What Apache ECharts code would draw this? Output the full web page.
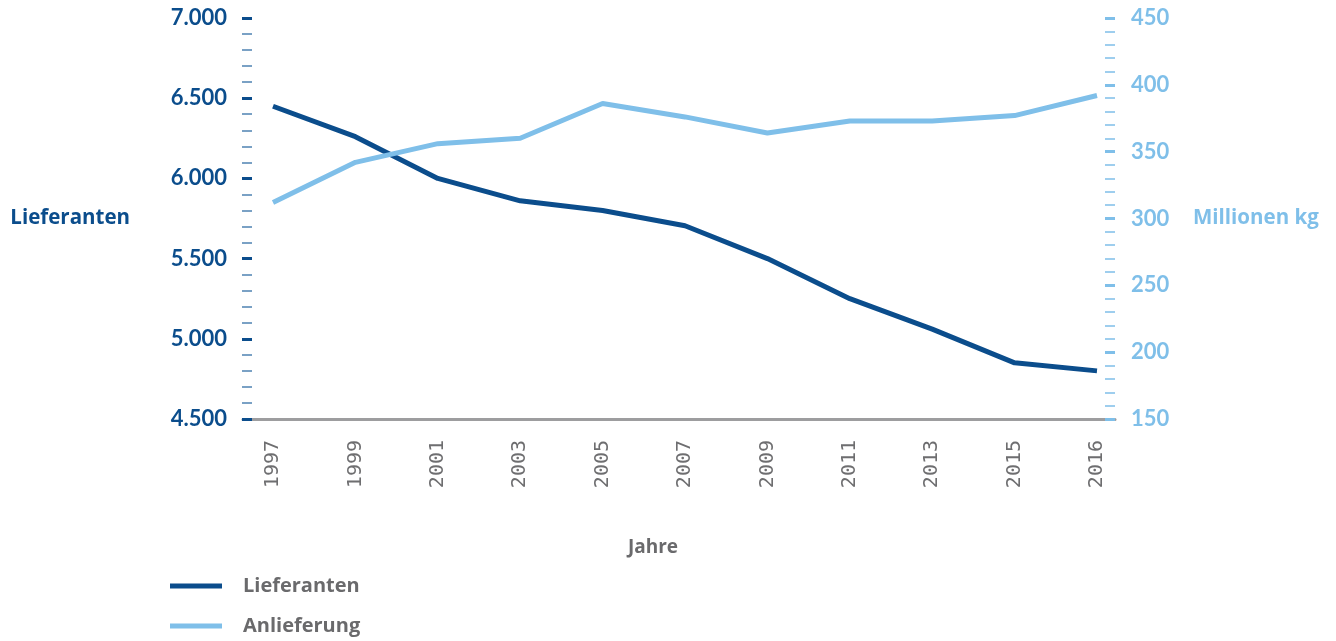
<!DOCTYPE html>
<html>
<head>
<meta charset="utf-8">
<script src="https://cdn.jsdelivr.net/npm/echarts@6/dist/echarts.min.js"></script>
<style>html,body{margin:0;padding:0;background:#fff}#c{width:1336px;height:641px}</style>
</head>
<body>
<div id="c"></div>
<script>
const years = ['1997','1999','2001','2003','2005','2007','2009','2011','2013','2015','2016'];
const lieferanten = [6450, 6260, 6000, 5860, 5800, 5705, 5500, 5250, 5060, 4850, 4800];
const anlieferung = [312, 342, 356, 360, 386, 376, 364, 373, 373, 377, 392];
const seriesNames = ['Lieferanten', 'Anlieferung'];
const axisNames = ['Lieferanten', 'Millionen kg', 'Jahre'];

const DARK = '#0b4d8c', LIGHT = '#7fbfe9', GRAY = '#6a6a6c';
const nameFont = '"Open Sans", sans-serif';
const fmt = v => String(v).replace(/\B(?=(\d{3})+(?!\d))/g, '.');

const chart = echarts.init(document.getElementById('c'), null, {renderer: 'canvas'});
chart.setOption({
  animation: false,
  backgroundColor: '#fff',
  title: {
    text: axisNames[2], left: 648, top: 533, textAlign: 'center',
    textStyle: {color: GRAY, fontFamily: nameFont, fontWeight: 'bold', fontSize: 19}
  },
  legend: {
    orient: 'vertical', left: 170, top: 576, padding: 0,
    itemWidth: 52, itemHeight: 5, itemGap: 20, icon: 'rect',
    data: seriesNames,
    textStyle: {color: GRAY, fontFamily: nameFont, fontWeight: 'bold', fontSize: 20, lineHeight: 20, padding: [0, 0, 0, 16]}
  },
  grid: [
    {left: 273, right: 239, top: 18, bottom: 222},
    {left: 243, right: 221, top: 18, bottom: 222}
  ],
  xAxis: [
    {
      type: 'category', gridIndex: 0, data: years, boundaryGap: false,
      axisLine: {show: false}, axisTick: {show: false},
      axisLabel: {interval: 0, rotate: 90, margin: 21, color: '#6e6e70', fontFamily: '"DejaVu Sans Mono", monospace', fontSize: 20}
    },
    {
      type: 'category', gridIndex: 1, data: years, boundaryGap: false,
      axisLine: {show: true, lineStyle: {color: '#9d9d9f', width: 3}},
      axisTick: {show: false}, axisLabel: {show: false}
    }
  ],
  yAxis: [
    {
      type: 'value', gridIndex: 0, position: 'left', offset: 21,
      min: 4500, max: 7000, interval: 500,
      name: axisNames[0], nameLocation: 'middle', nameRotate: 0, nameGap: 122,
      nameTextStyle: {color: DARK, fontFamily: nameFont, fontWeight: 'bold', fontSize: 20.5},
      axisLine: {show: false},
      axisTick: {show: true, length: 10, lineStyle: {color: DARK, width: 3}},
      minorTick: {show: true, splitNumber: 5, length: 10, lineStyle: {color: '#4f82b3', width: 1.5}},
      splitLine: {show: false},
      axisLabel: {margin: 25, color: DARK, fontFamily: 'Lato, sans-serif', fontWeight: 'bold', fontSize: 22, formatter: fmt}
    },
    {
      type: 'value', gridIndex: 0, position: 'right', offset: 8,
      min: 150, max: 450, interval: 50,
      name: axisNames[1], nameLocation: 'middle', nameRotate: 0, nameGap: 88,
      nameTextStyle: {color: LIGHT, fontFamily: nameFont, fontWeight: 'bold', fontSize: 20.5},
      axisLine: {show: false},
      axisTick: {show: true, length: 10, lineStyle: {color: LIGHT, width: 3}},
      minorTick: {show: true, splitNumber: 5, length: 10, lineStyle: {color: LIGHT, width: 1.5}},
      splitLine: {show: false},
      axisLabel: {margin: 26, color: LIGHT, fontFamily: 'Lato, sans-serif', fontWeight: 'bold', fontSize: 22}
    },
    {
      type: 'value', gridIndex: 1, show: false, splitLine: {show: false}
    }
  ],
  series: [
    {
      name: seriesNames[0], type: 'line', xAxisIndex: 0, yAxisIndex: 0,
      data: lieferanten, symbol: 'none', color: DARK,
      lineStyle: {color: DARK, width: 5}
    },
    {
      name: seriesNames[1], type: 'line', xAxisIndex: 0, yAxisIndex: 1,
      data: anlieferung, symbol: 'none', color: LIGHT,
      lineStyle: {color: LIGHT, width: 5}
    }
  ]
});
</script>
</body>
</html>
